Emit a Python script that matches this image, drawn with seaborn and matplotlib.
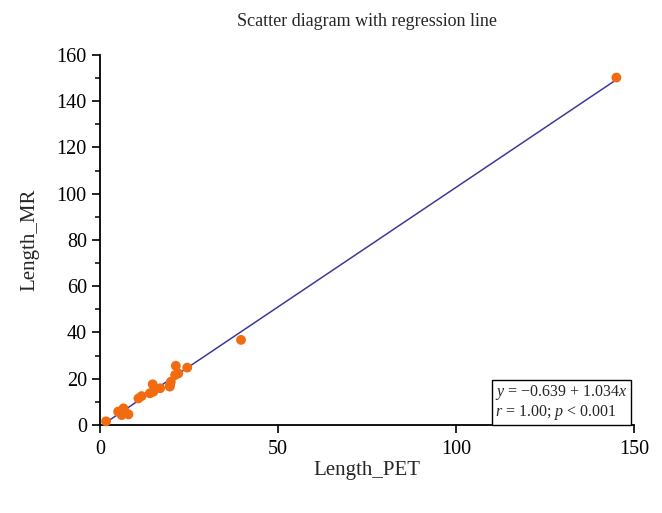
import matplotlib
matplotlib.use("Agg")
import matplotlib.pyplot as plt
import numpy as np
import pandas as pd
import seaborn as sns
from matplotlib.ticker import MultipleLocator

# values
length_pet = [1.7, 5.1, 6.6, 6.1, 8.0, 7.0, 10.8, 11.7, 14.0, 14.8, 15.0, 16.9,
              19.7, 19.9, 19.6, 21.1, 21.3, 22.0, 24.5, 39.6, 145.0]
length_mr = [1.6, 5.8, 7.2, 4.3, 4.6, 5.8, 11.5, 12.5, 13.7, 17.6, 14.4, 15.9,
             17.3, 18.7, 16.6, 21.6, 25.6, 22.3, 24.8, 36.8, 150.2]
intercept = -0.639
slope = 1.034
r_value = "1.00"
p_text = "0.001"

df = pd.DataFrame({"Length_PET": length_pet, "Length_MR": length_mr})
fit = pd.DataFrame({"x": [min(length_pet), max(length_pet)]})
fit["y"] = intercept + slope * fit["x"]

sns.set_style("ticks")
plt.rcParams["font.family"] = ["Liberation Serif", "DejaVu Serif"]
plt.rcParams["mathtext.fontset"] = "custom"
plt.rcParams["mathtext.rm"] = "Liberation Serif"
plt.rcParams["mathtext.it"] = "Liberation Serif:italic"

fig = plt.figure(figsize=(6.62, 5.13), dpi=100)
ax = fig.add_axes([0.151, 0.1715, 0.807, 0.7215])

sns.lineplot(data=fit, x="x", y="y", color="#3c3a9a", linewidth=1.1, ax=ax)
sns.scatterplot(data=df, x="Length_PET", y="Length_MR", color="#f26b10",
                s=50, edgecolor="none", zorder=3, ax=ax, clip_on=False)

ax.set_xlim(0, 150)
ax.set_ylim(0, 160)
ax.xaxis.set_major_locator(MultipleLocator(50))
ax.yaxis.set_major_locator(MultipleLocator(20))
ax.yaxis.set_minor_locator(MultipleLocator(10))
ax.tick_params(axis="both", which="major", length=6, width=1.2, labelsize=14.5,
               color="black", labelcolor="black")
ax.tick_params(axis="x", which="major", pad=5)
ax.tick_params(axis="y", which="minor", length=3.5, width=1.1, color="black")
for side in ["top", "right"]:
    ax.spines[side].set_visible(False)
for side in ["left", "bottom"]:
    ax.spines[side].set_linewidth(1.3)
    ax.spines[side].set_color("black")

ax.set_xlabel("Length_PET", fontsize=15, labelpad=1)
ax.set_ylabel("Length_MR", fontsize=15, labelpad=12)
ax.set_title("Scatter diagram with regression line", fontsize=13, pad=21)

label = (f"$y$ = \u2212{abs(intercept):.3f} + {slope:.3f}$x$\n"
         f"$r$ = {r_value}; $p$ < {p_text}")
ax.text(0.988, 0.008, label, transform=ax.transAxes, ha="right", va="bottom",
        multialignment="left", fontsize=11.5, linespacing=1.1,
        bbox=dict(boxstyle="square,pad=0.18", facecolor="white",
                  edgecolor="black", linewidth=1))

fig.savefig("out.png", dpi=100)
